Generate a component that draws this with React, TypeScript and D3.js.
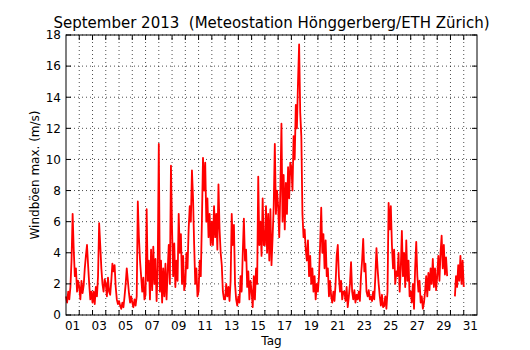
import React from 'react';
import * as d3 from 'd3';

// max. Windböen (m/s), one value every 2 hours, Sep 1 00:00 ... Oct 1 00:00
const samplesPerDay = 12;
const gusts: (number | null)[] = [
  1.2, 0.8, 1.5, 1.0, 1.8, 3.5, 6.5, 4.2, 2.5, 3.0, 1.5, 2.2, // 01
  1.8, 1.0, 2.2, 1.4, 1.9, 3.0, 3.8, 4.5, 3.2, 2.0, 1.0, 1.5, // 02
  0.8, 1.5, 0.7, 1.8, 1.2, 2.5, 5.9, 4.5, 3.0, 2.0, 1.5, 2.3, // 03
  2.0, 1.2, 2.4, 1.5, 1.3, 2.2, 3.3, 2.8, 3.2, 1.8, 1.0, 0.7, // 04
  0.9, 0.6, 0.4, 0.8, 0.5, 1.2, 2.0, 3.0, 2.2, 1.4, 0.8, 1.2, // 05
  0.8, 0.5, 1.0, 0.6, 1.2, 7.3, 5.0, 3.5, 2.5, 1.5, 2.4, 1.0, // 06
  1.3, 6.8, 2.2, 3.5, 1.0, 4.2, 1.6, 4.4, 2.0, 3.6, 0.9, 3.0, // 07
  11.0, 1.5, 3.5, 0.8, 3.0, 1.2, 3.3, 1.0, 2.8, 4.5, 2.0, 9.6, // 08
  5.5, 2.5, 4.6, 1.8, 3.5, 2.2, 6.5, 4.0, 5.2, 2.0, 3.8, 1.6, // 09
  2.0, 4.0, 3.0, 5.5, 7.0, 6.0, 9.3, 7.5, 4.5, 2.0, 3.0, 1.2, // 10
  1.5, 3.5, 2.5, 6.0, 10.1, 8.0, 9.8, 6.0, 7.5, 5.0, 6.5, 4.5, // 11
  6.0, 4.5, 7.0, 5.0, 6.5, 4.2, 8.4, 5.5, 4.0, 3.2, 1.5, 1.0, // 12
  1.0, 2.0, 1.2, 1.8, 0.9, 2.2, 6.5, 4.5, 5.8, 2.0, 1.0, 0.6, // 13
  1.2, 0.8, 2.5, 1.5, 4.0, 6.2, 3.5, 4.2, 1.8, 2.8, 1.0, 2.2, // 14
  1.5, 0.5, 2.5, 1.0, 3.0, 2.0, 8.9, 4.5, 6.0, 3.8, 7.5, 4.5, // 15
  4.5, 7.0, 4.0, 6.5, 3.5, 6.8, 3.2, 5.0, 7.0, 11.0, 6.5, 8.0, // 16
  7.0, 5.0, 8.0, 12.3, 6.0, 9.0, 5.5, 8.5, 6.5, 9.5, 7.5, 9.8, // 17
  9.5, 8.0, 11.5, 10.0, 13.5, 12.0, 15.0, 17.4, 13.0, 11.5, 6.5, 5.0, // 18
  5.5, 4.2, 3.5, 4.8, 2.5, 3.8, 2.0, 3.0, 1.5, 2.5, 1.0, 2.0, // 19
  1.5, 2.5, 4.5, 6.9, 4.0, 5.2, 3.0, 4.8, 2.5, 3.0, 1.2, 2.2, // 20
  1.2, 0.8, 1.5, 0.9, 2.0, 3.8, 4.5, 2.5, 1.5, 2.2, 1.0, 1.5, // 21
  1.5, 0.9, 1.8, 0.5, 1.2, 2.0, 3.4, 1.5, 1.0, 1.6, 0.8, 1.3, // 22
  1.0, 1.5, 0.9, 2.5, 3.5, 4.9, 2.8, 3.3, 1.5, 1.2, 1.6, 1.0, // 23
  1.2, 0.9, 1.5, 1.0, 2.5, 4.3, 3.0, 2.0, 1.2, 0.6, 1.3, 0.5, // 24
  0.6, 1.2, 0.4, 1.5, 7.2, 5.5, 7.0, 4.5, 3.0, 4.2, 2.0, 2.8, // 25
  2.5, 4.0, 1.5, 3.0, 5.4, 2.5, 4.0, 1.8, 4.8, 2.2, 3.5, 1.2, // 26
  1.5, 0.8, 2.0, 0.4, 3.0, 4.7, 2.5, 1.5, 2.2, 0.8, 1.2, 0.4, // 27
  0.8, 1.5, 2.5, 1.2, 2.7, 1.6, 3.0, 2.0, 3.6, 1.8, 3.0, 1.6, // 28
  2.5, 3.8, 2.2, 4.0, 5.1, 3.0, 4.5, 2.6, 3.7, 2.5, null, null, // 29
  null, null, null, null, 1.2, 2.5, 1.8, 3.2, 2.2, 3.8, 2.0, 3.5, // 30
  1.8, // Oct 1 00:00
];

const dayLabels = ['01', '03', '05', '07', '09', '11', '13', '15', '17', '19', '21', '23', '25', '27', '29', '31'];
const yTicks = [0, 2, 4, 6, 8, 10, 12, 14, 16, 18];

const W = 530;
const H = 350;
const margin = { top: 35, right: 53, bottom: 35, left: 66 };
const font = 'DejaVu Sans, sans-serif';

export default function App() {
  const x = d3.scaleLinear().domain([0, 31]).range([margin.left, W - margin.right]);
  const y = d3.scaleLinear().domain([0, 18]).range([H - margin.bottom, margin.top]);

  const line = d3
    .line<number | null>()
    .defined((d) => d != null)
    .x((_, i) => x(i / samplesPerDay))
    .y((d) => y(d as number));

  const dayGrid = d3.range(1, 31);
  const x0 = x.range()[0];
  const x1 = x.range()[1];
  const y0 = y.range()[0];
  const y1 = y.range()[1];
  const tickLen = 5;

  return (
    <svg width={W} height={H} style={{ position: 'absolute', left: 0, top: 0, background: '#fff' }} fontFamily={font}>
      <rect x={0} y={0} width={W} height={H} fill="#fff" />

      {/* grid */}
      <g stroke="#000" strokeWidth={0.7} strokeDasharray="1,3">
        {dayGrid.map((d) => (
          <line key={'gx' + d} x1={x(d)} x2={x(d)} y1={y0} y2={y1} />
        ))}
        {yTicks.map((t) => (
          <line key={'gy' + t} x1={x0} x2={x1} y1={y(t)} y2={y(t)} />
        ))}
      </g>

      {/* data */}
      <path d={line(gusts) || ''} fill="none" stroke="#ff0000" strokeWidth={1.8} strokeLinejoin="round" />

      {/* ticks */}
      <g stroke="#000" strokeWidth={1}>
        {dayGrid.map((d) => (
          <g key={'tx' + d}>
            <line x1={x(d)} x2={x(d)} y1={y0} y2={y0 - tickLen} />
            <line x1={x(d)} x2={x(d)} y1={y1} y2={y1 + tickLen} />
          </g>
        ))}
        {yTicks.map((t) => (
          <g key={'ty' + t}>
            <line x1={x0} x2={x0 + tickLen} y1={y(t)} y2={y(t)} />
            <line x1={x1} x2={x1 - tickLen} y1={y(t)} y2={y(t)} />
          </g>
        ))}
      </g>

      {/* frame */}
      <rect x={x0} y={y1} width={x1 - x0} height={y0 - y1} fill="none" stroke="#000" strokeWidth={1} />

      {/* tick labels */}
      <g fontSize={12} fill="#000">
        {dayLabels.map((l) => (
          <text key={'lx' + l} x={x(+l - 0.5)} y={y0 + 15} textAnchor="middle">
            {l}
          </text>
        ))}
        {yTicks.map((t) => (
          <text key={'ly' + t} x={x0 - 5} y={y(t)} dy="0.36em" textAnchor="end">
            {t}
          </text>
        ))}
      </g>

      {/* titles */}
      <text x={(x0 + x1) / 2} y={28} textAnchor="middle" fontSize={15} style={{ whiteSpace: 'pre' }}>
        {'September 2013  (Meteostation Hönggerberg/ETH Zürich)'}
      </text>
      <text x={(x0 + x1) / 2} y={345} textAnchor="middle" fontSize={12}>
        Tag
      </text>
      <text transform={`translate(39, ${(y0 + y1) / 2}) rotate(-90)`} textAnchor="middle" fontSize={12}>
        Windböen max. (m/s)
      </text>
    </svg>
  );
}
